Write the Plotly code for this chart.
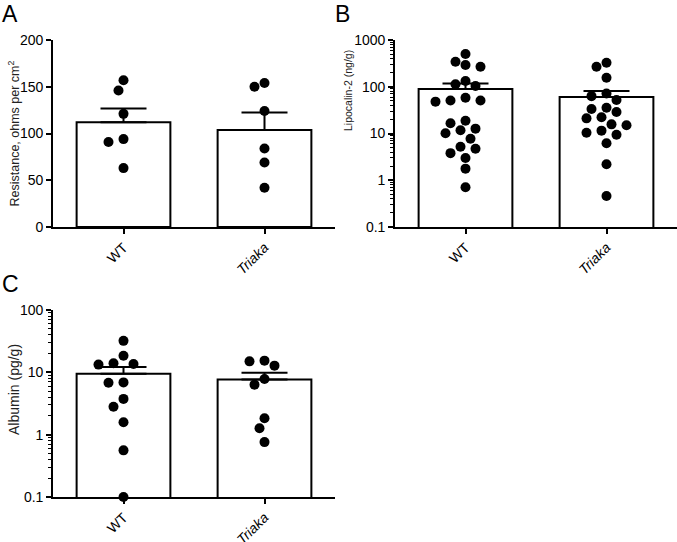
import numpy as np
import plotly.graph_objects as go

# ---------------- data ----------------
groups = ["WT", "Triaka"]
group_labels = ["WT", "<i>Triaka</i>"]

resistance_wt = [157, 146, 121, 94, 91, 63]
resistance_triaka = [154, 150, 124, 84, 69, 42]

lipocalin_wt = [500, 344, 292, 268, 133, 113, 104, 58, 51, 51, 48,
                18.8, 16.5, 12.7, 11.7, 10.1, 7.7, 5.2, 4.7, 3.8, 3.0, 1.77, 0.71]
lipocalin_triaka = [327, 268, 156, 72, 63, 52, 35.6, 33.4, 28.8, 22.2, 21.1,
                    15.7, 15, 11.5, 10.4, 9.4, 6.2, 2.2, 0.46]

albumin_wt = [32, 18.5, 14, 13.6, 13.3, 6.9, 6.8, 3.75, 2.8, 1.58, 0.56, 0.1]
albumin_triaka = [15.4, 15, 12.8, 7.8, 6.35, 1.83, 1.27, 0.76]

lin_ticks = [0, 50, 100, 150, 200]
log_ticks_b = [0.1, 1, 10, 100, 1000]
log_ticks_c = [0.1, 1, 10, 100]
log_tick_text_b = ["0.1", "1", "10", "100", "1000"]
log_tick_text_c = ["0.1", "1", "10", "100"]

# ---------------- layout geometry ----------------
W, H = 677, 542
FONT = "Liberation Sans, Arial, sans-serif"
MARKER_D = 10.0  # px

panels = {
    # name: (x0, x1, ytop, ybottom) in pixels
    "A": (53, 335, 40, 227),
    "B": (395, 677, 40, 227),
    "C": (53, 335, 310, 497),
}


def mean_sem(v):
    a = np.asarray(v, dtype=float)
    return a.mean(), a.std(ddof=1) / np.sqrt(len(a))


def swarm(values, to_px, px_per_cat):
    """Greedy beeswarm: offsets (category units) so markers do not overlap."""
    vals = np.asarray(values, dtype=float)
    ypx = np.array([to_px(v) for v in vals])
    order = np.argsort(-ypx)
    placed = []
    offs = np.zeros(len(vals))
    step = MARKER_D / 2.0
    cands = [0.0]
    for k in range(1, 12):
        cands += [-k * step, k * step]
    for i in order:
        for c in cands:
            ok = True
            for (px, py) in placed:
                if (px - c) ** 2 + (py - ypx[i]) ** 2 < (MARKER_D * 1.05) ** 2:
                    ok = False
                    break
            if ok:
                offs[i] = c
                placed.append((c, ypx[i]))
                break
    return offs / px_per_cat


fig = go.Figure()

axis_common = dict(showgrid=False, zeroline=False, showline=True, linecolor="black",
                   linewidth=1.7, ticks="outside", tickcolor="black", tickwidth=1.5,
                   ticklen=5, mirror=False, automargin=False)

specs = [
    ("A", "x", "y", resistance_wt, resistance_triaka, False, (0, 200)),
    ("B", "x2", "y2", lipocalin_wt, lipocalin_triaka, True, (-1, 3)),
    ("C", "x3", "y3", albumin_wt, albumin_triaka, True, (-1, 2)),
]

for name, xa, ya, wt, tr, is_log, yr in specs:
    x0, x1, yt, yb = panels[name]
    px_per_cat = (x1 - x0) / 2.0
    hpx = yb - yt
    if is_log:
        to_px = lambda v, yr=yr, hpx=hpx: (np.log10(v) - yr[0]) / (yr[1] - yr[0]) * hpx
    else:
        to_px = lambda v, yr=yr, hpx=hpx: (v - yr[0]) / (yr[1] - yr[0]) * hpx
    m1, s1 = mean_sem(wt)
    m2, s2 = mean_sem(tr)
    fig.add_trace(go.Bar(
        x=[0, 1], y=[m1, m2], width=0.665, xaxis=xa, yaxis=ya,
        marker=dict(color="white", line=dict(color="black", width=2)),
        error_y=dict(type="data", symmetric=False, array=[s1, s2], arrayminus=[0, 0],
                     color="black", thickness=2, width=23),
        showlegend=False, hoverinfo="skip"))
    for ci, vals in enumerate([wt, tr]):
        offs = swarm(vals, to_px, px_per_cat)
        fig.add_trace(go.Scatter(
            x=ci + offs, y=vals, mode="markers", xaxis=xa, yaxis=ya,
            marker=dict(color="black", size=MARKER_D, line=dict(width=0)),
            cliponaxis=False, showlegend=False))

layout = dict(width=W, height=H, margin=dict(l=0, r=0, t=0, b=0, pad=0, autoexpand=False),
              plot_bgcolor="white", paper_bgcolor="white",
              font=dict(family=FONT, color="black", size=13),
              bargap=0.3, showlegend=False)

minor_b = [k * 10.0 ** e for e in range(-1, 3) for k in range(2, 10)]
minor_c = [k * 10.0 ** e for e in range(-1, 2) for k in range(2, 10)]

for name, xa, ya, wt, tr, is_log, yr in specs:
    x0, x1, yt, yb = panels[name]
    xkey = "xaxis" if xa == "x" else "xaxis" + xa[1:]
    ykey = "yaxis" if ya == "y" else "yaxis" + ya[1:]
    xd = dict(axis_common, domain=[x0 / W, x1 / W], range=[-0.5, 1.5], anchor=ya,
              tickvals=[0, 1], ticktext=group_labels, tickangle=-45,
              tickfont=dict(size=14, family=FONT))
    yd = dict(axis_common, domain=[1 - yb / H, 1 - yt / H], anchor=xa,
              tickfont=dict(size=14, family=FONT))
    if is_log:
        yd.update(type="log", range=list(yr),
                  tickvals=log_ticks_b if name == "B" else log_ticks_c,
                  ticktext=log_tick_text_b if name == "B" else log_tick_text_c,
                  minor=dict(tickvals=minor_b if name == "B" else minor_c,
                             ticks="outside", ticklen=3, tickwidth=1, tickcolor="black"))
    else:
        yd.update(range=list(yr), tickvals=lin_ticks)
    layout[xkey] = xd
    layout[ykey] = yd

annotations = []
titles = [
    ("Resistance, ohms per cm<sup>2</sup>", 13, (40 + 227) / 2, 12.5),
    ("Lipocalin-2 (ng/g)", 348, 91, 10.5),
    ("Albumin (pg/g)", 14, 390, 14),
]
for txt, px, py, fs in titles:
    annotations.append(dict(text=txt, x=px / W, y=1 - py / H, xref="paper", yref="paper",
                            textangle=-90, showarrow=False, xanchor="center", yanchor="middle",
                            font=dict(size=fs, family=FONT, color="#222")))
for letter, px, py in [("A", 10, 14), ("B", 342, 14), ("C", 11, 284)]:
    annotations.append(dict(text=letter, x=px / W, y=1 - py / H, xref="paper", yref="paper",
                            showarrow=False, xanchor="center", yanchor="middle",
                            font=dict(size=23, family=FONT, color="black")))
layout["annotations"] = annotations

fig.update_layout(**layout)
fig.write_html("out.html", config={"displayModeBar": False},
               post_script="document.body.style.margin='0px';document.body.style.padding='0px';")
